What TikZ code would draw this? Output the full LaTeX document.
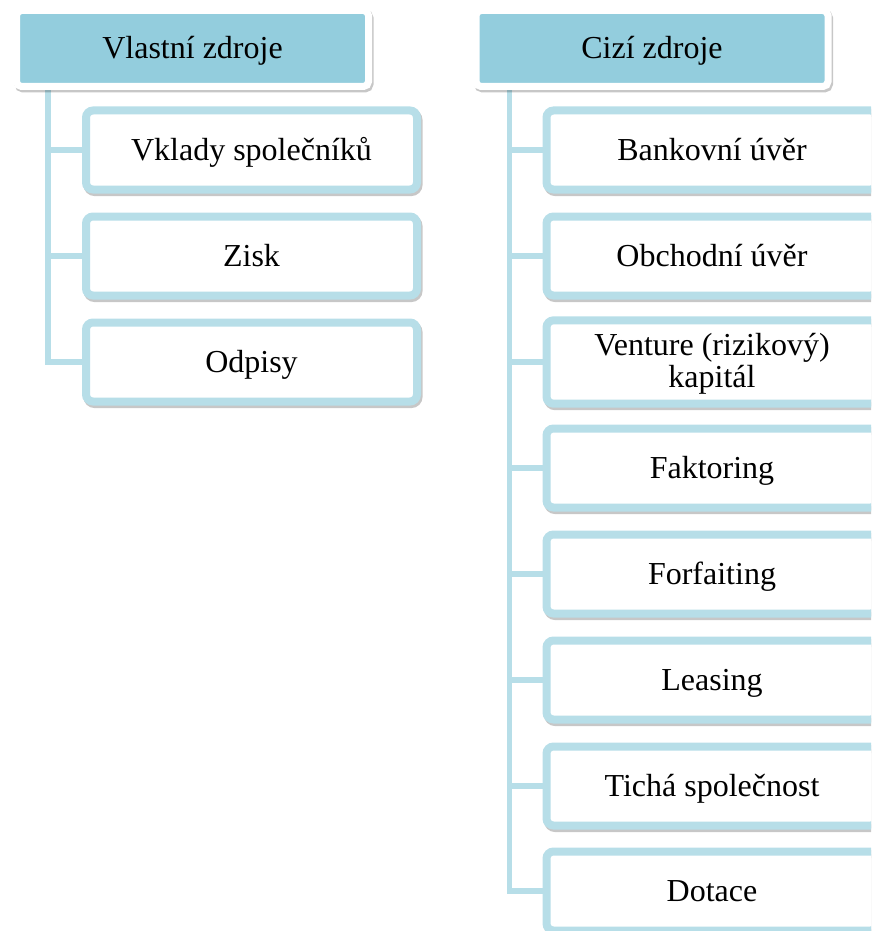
\documentclass[tikz,border=0pt]{standalone}
\usepackage{fontspec}
\setmainfont{Liberation Serif}
\usetikzlibrary{shadows,backgrounds}
\definecolor{hlava}{HTML}{93CDDD}
\definecolor{okraj}{HTML}{B7DEE8}
\begin{document}
\begin{tikzpicture}[x=1pt,y=-1pt,
    stin/.style={drop shadow={shadow xshift=1.5pt,shadow yshift=-2.5pt,
        opacity=0.22,fill=black,draw=black,line width=#1}},
    hlavni/.style={draw=white,line width=7pt,fill=hlava,rounded corners=5pt,
        minimum width=352pt,minimum height=76pt,text height=23pt,text depth=2pt,
        stin=7pt},
    polozka/.style={draw=okraj,line width=8pt,fill=white,rounded corners=7pt,
        minimum width=331pt,minimum height=79pt,align=center,
        text height=23pt,text depth=2pt,stin=8pt},
    spoj/.style={draw=okraj,line width=5.5pt}]
        \clip (0,0) rectangle (871,931);
        \fontsize{32}{32}\selectfont

        % Vlastni zdroje
        \node[hlavni] (vz) at (192.5,48.5) {Vlastní zdroje};
        \node[polozka] (vklady) at (251.5,150) {Vklady společníků};
        \node[polozka] (zisk) at (251.5,256) {Zisk};
        \node[polozka] (odpisy) at (251.5,362) {Odpisy};

        % Cizi zdroje
        \node[hlavni] (cz) at (652,48.5) {Cizí zdroje};
        \node[polozka] (banka) at (712,150) {Bankovní úvěr};
        \node[polozka] (obchod) at (712,256) {Obchodní úvěr};
        \node[polozka,text height=56pt,text depth=6pt] (venture) at (712,362)
            {Venture (rizikový)\\kapitál};
        \node[polozka] (faktoring) at (712,468) {Faktoring};
        \node[polozka] (forfaiting) at (712,574) {Forfaiting};
        \node[polozka] (leasing) at (712,680) {Leasing};
        \node[polozka] (ticha) at (712,786) {Tichá společnost};
        \node[polozka] (dotace) at (712,891) {Dotace};

        \begin{scope}[on background layer]
        \draw[spoj] ([xshift=35pt]vz.south west) |- (vklady.west);
        \draw[spoj] ([xshift=35pt]vz.south west) |- (zisk.west);
        \draw[spoj] ([xshift=35pt]vz.south west) |- (odpisy.west);
        \foreach \n in {banka,obchod,venture,faktoring,forfaiting,leasing,ticha,dotace}
            \draw[spoj] ([xshift=37pt]cz.south west) |- (\n.west);
        \end{scope}

    \end{tikzpicture}
\end{document}
